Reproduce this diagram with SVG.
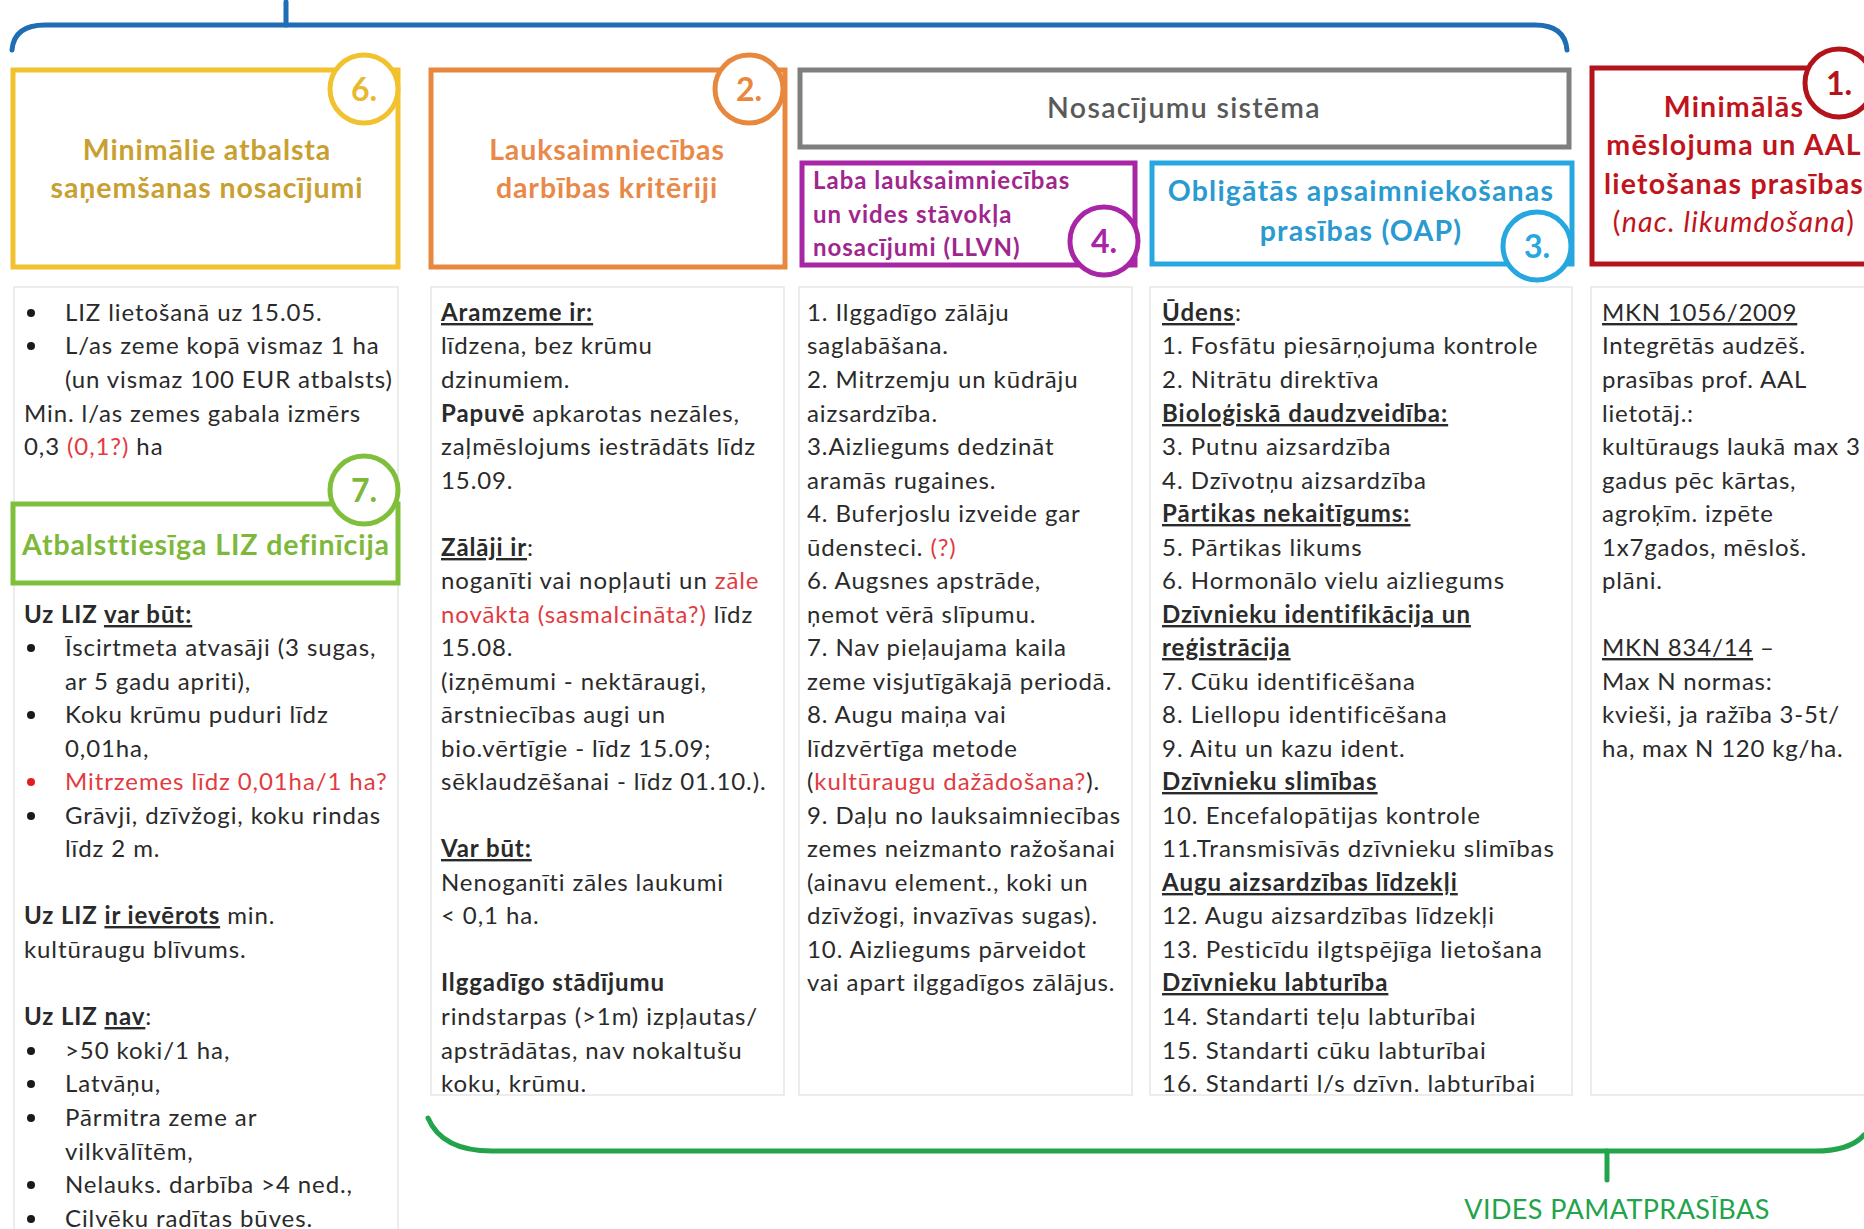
<svg xmlns="http://www.w3.org/2000/svg" width="1864" height="1229" viewBox="0 0 1864 1229">
<style>
.t{font-family:Lato,"Liberation Sans",sans-serif;font-size:24px;fill:#2a2a2a;letter-spacing:0.9px}
.s{letter-spacing:1px}
.s5{letter-spacing:0.8px}
.b{font-weight:bold}
.u{text-decoration:underline}
.r{fill:#e23b3f}
.h{font-family:Lato,"Liberation Sans",sans-serif;font-weight:bold;font-size:28.5px;letter-spacing:0.9px;text-anchor:middle}
.p{font-family:Lato,"Liberation Sans",sans-serif;font-weight:bold;font-size:24px;letter-spacing:1px;fill:#a0268e}
.num{font-family:Lato,"Liberation Sans",sans-serif;font-weight:bold;font-size:32px;text-anchor:middle}
.panel{fill:#fff;stroke:#e6e6e6;stroke-width:1.5}
.box{fill:#fff;stroke-width:5}
.circ{fill:#fff;stroke-width:5}
.dot{fill:#1a1a1a}
</style>
<rect width="1864" height="1229" fill="#fff"/>

<g id="connectors" fill="none" stroke-linecap="round">
  <path d="M12 50 Q14 25 45 25 L1535 25 Q1565 25 1567 50" stroke="#1f6db4" stroke-width="5"/>
  <path d="M286 2 V25" stroke="#1f6db4" stroke-width="5"/>
  <path d="M428 1118 Q442 1151 492 1151 L1815 1151 Q1850 1151 1864 1135" stroke="#22a34c" stroke-width="5"/>
  <path d="M1607 1151 V1180" stroke="#22a34c" stroke-width="5"/>
</g>

<g id="panel-1">
  <rect class="panel" x="14" y="287" width="384" height="960"/>
  <circle class="dot" cx="31" cy="313" r="4"/>
  <text class="t" x="65" y="321">LIZ lietošanā uz 15.05.</text>
  <circle class="dot" cx="31" cy="346" r="4"/>
  <text class="t" x="65" y="354">L/as zeme kopā vismaz 1 ha</text>
  <text class="t" x="65" y="388">(un vismaz 100 EUR atbalsts)</text>
  <text class="t" x="24" y="422">Min. l/as zemes gabala izmērs</text>
  <text class="t" x="24" y="455">0,3 <tspan class="r">(0,1?)</tspan> ha</text>
  <text class="t b" x="24" y="623">Uz LIZ <tspan class="u">var būt:</tspan></text>
  <circle class="dot" cx="31" cy="648" r="4"/>
  <text class="t" x="65" y="656">Īscirtmeta atvasāji (3 sugas,</text>
  <text class="t" x="65" y="690">ar 5 gadu apriti),</text>
  <circle class="dot" cx="31" cy="715" r="4"/>
  <text class="t" x="65" y="723">Koku krūmu puduri līdz</text>
  <text class="t" x="65" y="757">0,01ha,</text>
  <circle cx="31" cy="782" r="4" fill="#e02020"/>
  <text class="t r" x="65" y="790">Mitrzemes līdz 0,01ha/1 ha?</text>
  <circle class="dot" cx="31" cy="816" r="4"/>
  <text class="t" x="65" y="824">Grāvji, dzīvžogi, koku rindas</text>
  <text class="t" x="65" y="857">līdz 2 m.</text>
  <text class="t" x="24" y="924"><tspan class="b">Uz LIZ </tspan><tspan class="b u">ir ievērots</tspan> min.</text>
  <text class="t" x="24" y="958">kultūraugu blīvums.</text>
  <text class="t" x="24" y="1025"><tspan class="b">Uz LIZ </tspan><tspan class="b u">nav</tspan>:</text>
  <circle class="dot" cx="31" cy="1051" r="4"/>
  <text class="t" x="65" y="1059">&gt;50 koki/1 ha,</text>
  <circle class="dot" cx="31" cy="1084" r="4"/>
  <text class="t" x="65" y="1092">Latvāņu,</text>
  <circle class="dot" cx="31" cy="1118" r="4"/>
  <text class="t" x="65" y="1126">Pārmitra zeme ar</text>
  <text class="t" x="65" y="1160">vilkvālītēm,</text>
  <circle class="dot" cx="31" cy="1185" r="4"/>
  <text class="t" x="65" y="1193">Nelauks. darbība &gt;4 ned.,</text>
  <circle class="dot" cx="31" cy="1219" r="4"/>
  <text class="t" x="65" y="1227">Cilvēku radītas būves.</text>
</g>

<g id="panel-2">
  <rect class="panel" x="431" y="287" width="353" height="808"/>
  <text class="t b u" x="441" y="321">Aramzeme ir:</text>
  <text class="t" x="441" y="354">līdzena, bez krūmu</text>
  <text class="t" x="441" y="388">dzinumiem.</text>
  <text class="t" x="441" y="422"><tspan class="b">Papuvē</tspan> apkarotas nezāles,</text>
  <text class="t" x="441" y="455">zaļmēslojums iestrādāts līdz</text>
  <text class="t" x="441" y="489">15.09.</text>
  <text class="t" x="441" y="556"><tspan class="b u">Zālāji ir</tspan>:</text>
  <text class="t" x="441" y="589">noganīti vai nopļauti un <tspan class="r">zāle</tspan></text>
  <text class="t" x="441" y="623"><tspan class="r">novākta (sasmalcināta?)</tspan> līdz</text>
  <text class="t" x="441" y="656">15.08.</text>
  <text class="t" x="441" y="690">(izņēmumi - nektāraugi,</text>
  <text class="t" x="441" y="723">ārstniecības augi un</text>
  <text class="t" x="441" y="757">bio.vērtīgie - līdz 15.09;</text>
  <text class="t" x="441" y="790">sēklaudzēšanai - līdz 01.10.).</text>
  <text class="t b u" x="441" y="857">Var būt:</text>
  <text class="t" x="441" y="891">Nenoganīti zāles laukumi</text>
  <text class="t" x="441" y="924">&lt; 0,1 ha.</text>
  <text class="t b" x="441" y="991">Ilggadīgo stādījumu</text>
  <text class="t" x="441" y="1025">rindstarpas (&gt;1m) izpļautas/</text>
  <text class="t" x="441" y="1059">apstrādātas, nav nokaltušu</text>
  <text class="t" x="441" y="1092">koku, krūmu.</text>
</g>

<g id="panel-3">
  <rect class="panel" x="799" y="287" width="333" height="808"/>
  <text class="t" x="807" y="321">1. Ilggadīgo zālāju</text>
  <text class="t" x="807" y="354">saglabāšana.</text>
  <text class="t" x="807" y="388">2. Mitrzemju un kūdrāju</text>
  <text class="t" x="807" y="422">aizsardzība.</text>
  <text class="t" x="807" y="455">3.Aizliegums dedzināt</text>
  <text class="t" x="807" y="489">aramās rugaines.</text>
  <text class="t" x="807" y="522">4. Buferjoslu izveide gar</text>
  <text class="t" x="807" y="556">ūdensteci. <tspan class="r">(?)</tspan></text>
  <text class="t" x="807" y="589">6. Augsnes apstrāde,</text>
  <text class="t" x="807" y="623">ņemot vērā slīpumu.</text>
  <text class="t" x="807" y="656">7. Nav pieļaujama kaila</text>
  <text class="t" x="807" y="690">zeme visjutīgākajā periodā.</text>
  <text class="t" x="807" y="723">8. Augu maiņa vai</text>
  <text class="t" x="807" y="757">līdzvērtīga metode</text>
  <text class="t" x="807" y="790">(<tspan class="r">kultūraugu dažādošana?</tspan>).</text>
  <text class="t" x="807" y="824">9. Daļu no lauksaimniecības</text>
  <text class="t" x="807" y="857">zemes neizmanto ražošanai</text>
  <text class="t" x="807" y="891">(ainavu element., koki un</text>
  <text class="t" x="807" y="924">dzīvžogi, invazīvas sugas).</text>
  <text class="t" x="807" y="958">10. Aizliegums pārveidot</text>
  <text class="t" x="807" y="991">vai apart ilggadīgos zālājus.</text>
</g>

<g id="panel-4">
  <rect class="panel" x="1150" y="287" width="422" height="808"/>
  <text class="t s" x="1162" y="321"><tspan class="b u">Ūdens</tspan>:</text>
  <text class="t s" x="1162" y="354">1. Fosfātu piesārņojuma kontrole</text>
  <text class="t s" x="1162" y="388">2. Nitrātu direktīva</text>
  <text class="t s b u" x="1162" y="422">Bioloģiskā daudzveidība:</text>
  <text class="t s" x="1162" y="455">3. Putnu aizsardzība</text>
  <text class="t s" x="1162" y="489">4. Dzīvotņu aizsardzība</text>
  <text class="t s b u" x="1162" y="522">Pārtikas nekaitīgums:</text>
  <text class="t s" x="1162" y="556">5. Pārtikas likums</text>
  <text class="t s" x="1162" y="589">6. Hormonālo vielu aizliegums</text>
  <text class="t s b u" x="1162" y="623">Dzīvnieku identifikācija un</text>
  <text class="t s b u" x="1162" y="656">reģistrācija</text>
  <text class="t s" x="1162" y="690">7. Cūku identificēšana</text>
  <text class="t s" x="1162" y="723">8. Liellopu identificēšana</text>
  <text class="t s" x="1162" y="757">9.  Aitu un kazu ident.</text>
  <text class="t s b u" x="1162" y="790">Dzīvnieku slimības</text>
  <text class="t s" x="1162" y="824">10. Encefalopātijas kontrole</text>
  <text class="t s" x="1162" y="857">11.Transmisīvās dzīvnieku slimības</text>
  <text class="t s b u" x="1162" y="891">Augu aizsardzības līdzekļi</text>
  <text class="t s" x="1162" y="924">12. Augu aizsardzības līdzekļi</text>
  <text class="t s" x="1162" y="958">13. Pesticīdu ilgtspējīga lietošana</text>
  <text class="t s b u" x="1162" y="991">Dzīvnieku labturība</text>
  <text class="t s" x="1162" y="1025">14. Standarti teļu labturībai</text>
  <text class="t s" x="1162" y="1059">15. Standarti cūku labturībai</text>
  <text class="t s" x="1162" y="1092">16. Standarti l/s dzīvn. labturībai</text>
</g>

<g id="panel-5">
  <rect class="panel" x="1591" y="287" width="290" height="808"/>
  <text class="t s5 u" x="1602" y="321">MKN 1056/2009</text>
  <text class="t s5" x="1602" y="354">Integrētās audzēš.</text>
  <text class="t s5" x="1602" y="388">prasības prof. AAL</text>
  <text class="t s5" x="1602" y="422">lietotāj.:</text>
  <text class="t s5" x="1602" y="455">kultūraugs laukā max 3</text>
  <text class="t s5" x="1602" y="489">gadus pēc kārtas,</text>
  <text class="t s5" x="1602" y="522">agroķīm. izpēte</text>
  <text class="t s5" x="1602" y="556">1x7gados, mēsloš.</text>
  <text class="t s5" x="1602" y="589">plāni.</text>
  <text class="t s5" x="1602" y="656"><tspan class="u">MKN 834/14</tspan> –</text>
  <text class="t s5" x="1602" y="690">Max N normas:</text>
  <text class="t s5" x="1602" y="723">kvieši, ja ražība 3-5t/</text>
  <text class="t s5" x="1602" y="757">ha, max N 120 kg/ha.</text>
</g>

<g id="node-6">
  <rect class="box" x="13" y="70" width="385" height="197" stroke="#f2c12e"/>
  <text class="h" x="207" y="160" fill="#c8a032">Minimālie atbalsta</text>
  <text class="h" x="207" y="198" fill="#c8a032">saņemšanas nosacījumi</text>
  <circle class="circ" cx="364" cy="89" r="34" stroke="#f2c12e"/>
  <text class="num" x="364" y="101" fill="#e8b830">6.</text>
</g>

<g id="node-2">
  <rect class="box" x="431" y="70" width="354" height="197" stroke="#e8873e"/>
  <text class="h" x="607" y="160" fill="#e8894a">Lauksaimniecības</text>
  <text class="h" x="607" y="198" fill="#e8894a">darbības kritēriji</text>
  <circle class="circ" cx="749" cy="89" r="34" stroke="#e8873e"/>
  <text class="num" x="749" y="101" fill="#e8873e">2.</text>
</g>

<g id="node-system">
  <rect class="box" x="800" y="70" width="769" height="77" stroke="#7f7f7f"/>
  <text class="h" x="1184" y="118" fill="#595959" style="font-weight:600;letter-spacing:1.3px">Nosacījumu sistēma</text>
</g>

<g id="node-4">
  <rect class="box" x="802" y="163" width="333" height="102" stroke="#a826a6"/>
  <text class="p" x="813" y="189">Laba lauksaimniecības</text>
  <text class="p" x="813" y="223">un vides stāvokļa</text>
  <text class="p" x="813" y="256">nosacījumi (LLVN)</text>
  <circle class="circ" cx="1104" cy="241" r="34" stroke="#a826a6"/>
  <text class="num" x="1104" y="253" fill="#a826a6">4.</text>
</g>

<g id="node-3">
  <rect class="box" x="1152" y="163" width="420" height="101" stroke="#26a7df"/>
  <text class="h" x="1361" y="201" fill="#2a9ad0" style="letter-spacing:1.2px">Obligātās apsaimniekošanas</text>
  <text class="h" x="1361" y="241" fill="#2a9ad0" style="letter-spacing:1.2px">prasības (OAP)</text>
  <circle class="circ" cx="1537" cy="246" r="34" stroke="#26a7df"/>
  <text class="num" x="1537" y="258" fill="#26a7df">3.</text>
</g>

<g id="node-1">
  <rect class="box" x="1592" y="68" width="290" height="196" stroke="#b3141c"/>
  <text class="h" x="1734" y="117" fill="#c0141c" style="letter-spacing:1.2px">Minimālās</text>
  <text class="h" x="1734" y="155" fill="#c0141c" style="letter-spacing:1.2px">mēslojuma un AAL</text>
  <text class="h" x="1734" y="194" fill="#c0141c" style="letter-spacing:1.2px">lietošanas prasības</text>
  <text class="h" x="1734" y="232" fill="#c0141c" style="font-weight:normal;letter-spacing:1.2px">(<tspan font-style="italic">nac. likumdošana</tspan>)</text>
  <circle class="circ" cx="1839" cy="83" r="34" stroke="#b3141c"/>
  <text class="num" x="1839" y="95" fill="#b3141c">1.</text>
</g>

<g id="node-7">
  <rect class="box" x="13" y="504" width="385" height="79" stroke="#80bf3c"/>
  <text class="h" x="206" y="555" fill="#7db83a">Atbalsttiesīga LIZ definīcija</text>
  <circle class="circ" cx="364" cy="490" r="34" stroke="#80bf3c"/>
  <text class="num" x="364" y="502" fill="#7db83a">7.</text>
</g>

<g id="label-vides">
  <text x="1617" y="1219" style="font-family:Lato,'Liberation Sans',sans-serif;font-size:27px;letter-spacing:0.4px;fill:#22a34c;text-anchor:middle">VIDES PAMATPRASĪBAS</text>
</g>
</svg>
